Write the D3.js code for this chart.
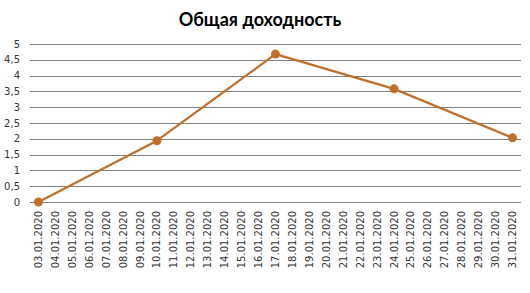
<!DOCTYPE html>
<html>
<head>
<meta charset="utf-8">
<script src="https://cdn.jsdelivr.net/npm/d3@7"></script>
<style>
  body { margin: 0; background: #fff; }
  text { font-family: "DejaVu Sans", sans-serif; }
</style>
</head>
<body>
<div id="chart"></div>
<script>
// chart data
const title = "Общая доходность";
const dates = [];
for (let d = 3; d <= 31; d++) dates.push(String(d).padStart(2, "0") + ".01.2020");
const pointDates = ["03.01.2020", "10.01.2020", "17.01.2020", "24.01.2020", "31.01.2020"];
const pointValues = [0, 1.94, 4.68, 3.58, 2.03];
const yTicks = [0, 0.5, 1, 1.5, 2, 2.5, 3, 3.5, 4, 4.5, 5];

const w = 530, h = 293;
const margin = { top: 44, right: 9, bottom: 91, left: 30 };

const svg = d3.select("#chart").append("svg")
  .attr("width", w)
  .attr("height", h);

const x = d3.scaleBand()
  .domain(dates)
  .range([margin.left, w - margin.right]);

const y = d3.scaleLinear()
  .domain([0, 5])
  .range([h - margin.bottom, margin.top]);

const fmt = (v) => String(v).replace(".", ",");

// gridlines
svg.append("g")
  .selectAll("line")
  .data(yTicks)
  .enter()
  .append("line")
  .attr("x1", margin.left)
  .attr("x2", w - margin.right)
  .attr("y1", (d) => Math.round(y(d)) + 0.5)
  .attr("y2", (d) => Math.round(y(d)) + 0.5)
  .attr("stroke", "#7f7f7f")
  .attr("stroke-width", 1);

// y labels
svg.append("g")
  .selectAll("text")
  .data(yTicks)
  .enter()
  .append("text")
  .attr("x", 20)
  .attr("y", (d) => y(d))
  .attr("dy", "0.35em")
  .attr("text-anchor", "end")
  .attr("font-size", 10)
  .attr("fill", "#333")
  .text(fmt);

// x labels (rotated)
svg.append("g")
  .selectAll("text")
  .data(dates)
  .enter()
  .append("text")
  .attr("transform", (d) => `translate(${x(d) + x.bandwidth() / 2 + 3.5},${h - margin.bottom + 9}) rotate(-90)`)
  .attr("text-anchor", "end")
  .attr("font-size", 10)
  .attr("fill", "#333")
  .text((d) => d);

// title
svg.append("text")
  .attr("x", 260)
  .attr("y", 26)
  .attr("text-anchor", "middle")
  .attr("font-size", 18)
  .attr("font-weight", "bold")
  .style("font-family", "Lato, sans-serif")
  .attr("fill", "#000")
  .text(title);

const pts = pointDates.map((d, i) => ({ date: d, value: pointValues[i] }));
const line = d3.line()
  .x((d) => x(d.date) + x.bandwidth() / 2)
  .y((d) => y(d.value));

svg.append("path")
  .datum(pts)
  .attr("d", line)
  .attr("fill", "none")
  .attr("stroke", "#c0702a")
  .attr("stroke-width", 2.25)
  .attr("stroke-linejoin", "round");

svg.selectAll("circle.pt")
  .data(pts)
  .enter()
  .append("circle")
  .attr("class", "pt")
  .attr("cx", (d) => x(d.date) + x.bandwidth() / 2)
  .attr("cy", (d) => y(d.value))
  .attr("r", 4.5)
  .attr("fill", "#c0702a");
</script>
</body>
</html>
